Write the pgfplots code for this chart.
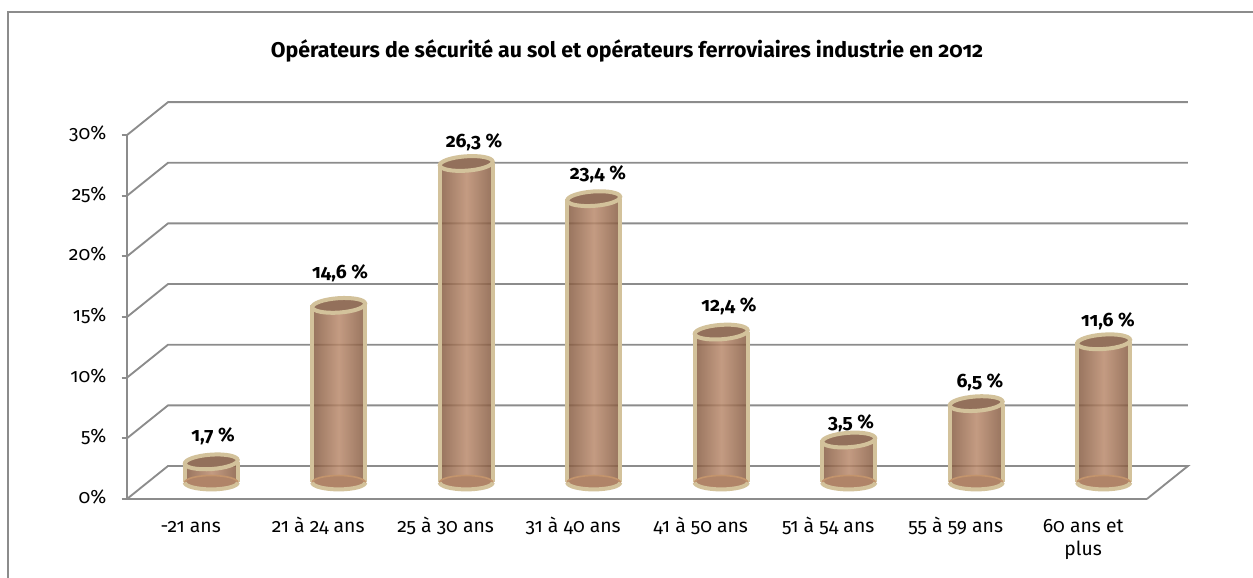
\documentclass[border=0pt]{standalone}
\usepackage{fontspec}
\setmainfont{Fira Sans}[Numbers=OldStyle]
\usepackage{pgfplots}
\usepackage{pgfplotstable}
\pgfplotsset{compat=1.18}

\definecolor{gridgray}{HTML}{8C8C8C}
\definecolor{rim}{HTML}{D3C29B}
\definecolor{barlo}{HTML}{84593F}
\definecolor{barhi}{HTML}{B8886A}
\definecolor{captop}{HTML}{93705B}
\definecolor{capbot}{HTML}{B08468}
\definecolor{innerarc}{HTML}{C3946C}

% cylinder caps, sized for 1px = 0.75pt
\pgfdeclareplotmark{cyltop}{%
  \pgfpathellipse{\pgfpointorigin}{\pgfpointpolar{4}{19.9pt}}{\pgfpointpolar{94}{5.4pt}}%
  \pgfusepathqfillstroke}
\pgfdeclareplotmark{cylbase}{%
  \pgfpathellipse{\pgfpointorigin}{\pgfqpoint{19.9pt}{0pt}}{\pgfqpoint{0pt}{5.2pt}}%
  \pgfusepathqfillstroke}
\pgfdeclareplotmark{cylrim}{%
  \pgfpathmoveto{\pgfqpoint{-19.9pt}{0pt}}%
  \pgfpatharc{180}{360}{19.9pt and 5.2pt}%
  \pgfusepathqstroke}

\pgfplotstableread{
x v
0.5 1.7
1.5 14.6
2.5 26.3
3.5 23.4
4.5 12.4
5.5 3.5
6.5 6.5
7.5 11.6
}\agedata

\pgfplotsset{cylbody/.style={ybar,bar width=0.4157,draw=none,
  left color=barlo,right color=barlo,middle color=barhi,fill opacity=0.84}}

\begin{document}
\begin{tikzpicture}
\begin{axis}[
scale only axis,width=765pt,height=272.9pt,
xmin=-0.161,xmax=7.839,ymin=-1.36,ymax=28.64,
clip=false,
font=\fontsize{14.5}{17}\selectfont,
axis x line*=bottom,axis y line*=left,
axis line style={gridgray,line width=1.4pt},
tick align=outside,
typeset ticklabels with strut,
xtick={0.339,1.339,2.339,3.339,4.339,5.339,6.339,7.339},
xticklabels={-21 ans,21 à 24 ans,25 à 30 ans,31 à 40 ans,41 à 50 ans,51 à 54 ans,55 à 59 ans,60 ans et\\plus},
xticklabel style={align=center,yshift=-6pt},
xtick style={draw=none},
minor xtick={-0.161,0.839,1.839,2.839,3.839,4.839,5.839,6.839,7.839},
minor tick length=4.5pt,
minor tick style={gridgray,line width=1.4pt},
ytick={-1.36,3.64,8.64,13.64,18.64,23.64,28.64},
yticklabels={0\%,5\%,10\%,15\%,20\%,25\%,30\%},
yticklabel style={xshift=-8pt},
ytick style={gridgray,line width=1.4pt},
major tick length=4pt,
]
% grid of the 3D walls
\addplot[gridgray,line width=1.4pt,no marks] coordinates {(-0.161,-1.36) (0.161,1.36) (8.161,1.36) (7.839,-1.36)};
\addplot[gridgray,line width=1.4pt,no marks] coordinates {(-0.161,3.64) (0.161,6.36) (8.161,6.36)};
\addplot[gridgray,line width=1.4pt,no marks] coordinates {(-0.161,8.64) (0.161,11.36) (8.161,11.36)};
\addplot[gridgray,line width=1.4pt,no marks] coordinates {(-0.161,13.64) (0.161,16.36) (8.161,16.36)};
\addplot[gridgray,line width=1.4pt,no marks] coordinates {(-0.161,18.64) (0.161,21.36) (8.161,21.36)};
\addplot[gridgray,line width=1.4pt,no marks] coordinates {(-0.161,23.64) (0.161,26.36) (8.161,26.36)};
\addplot[gridgray,line width=1.4pt,no marks] coordinates {(-0.161,28.64) (0.161,31.36) (8.161,31.36)};

% cylinders: base, body (one plot per bar so each gets its own shading), rims, top
\addplot[only marks,mark=cylbase,mark options={fill=capbot,draw=innerarc,line width=1.2pt}] table[x=x,y expr=0]{\agedata};
\addplot[cylbody] coordinates {(0.5,1.7)};
\addplot[cylbody] coordinates {(1.5,14.6)};
\addplot[cylbody] coordinates {(2.5,26.3)};
\addplot[cylbody] coordinates {(3.5,23.4)};
\addplot[cylbody] coordinates {(4.5,12.4)};
\addplot[cylbody] coordinates {(5.5,3.5)};
\addplot[cylbody] coordinates {(6.5,6.5)};
\addplot[cylbody] coordinates {(7.5,11.6)};
\addplot[only marks,mark=cylrim,mark options={draw=rim,line width=3pt}] table[x=x,y expr=0]{\agedata};
\addplot[ycomb,rim,line width=3pt,no marks] table[x expr=\thisrow{x}-0.2078,y=v]{\agedata};
\addplot[ycomb,rim,line width=3pt,no marks] table[x expr=\thisrow{x}+0.2078,y=v]{\agedata};
\addplot[only marks,mark=cyltop,mark options={fill=captop,draw=rim,line width=3pt}] table[x=x,y=v]{\agedata};

% data labels
\addplot[draw=none,no marks,nodes near coords,point meta=explicit symbolic,
  nodes near coords style={anchor=base,inner sep=0pt,font=\bfseries\fontsize{14.5}{17}\selectfont}]
  coordinates {(0.514,3.34)[1,7 \%] (1.510,16.78)[14,6 \%] (2.561,27.58)[26,3 \%] (3.533,24.94)[23,4 \%]
  (4.561,14.06)[12,4 \%] (5.518,4.41)[3,5 \%] (6.529,7.87)[6,5 \%] (7.533,12.90)[11,6 \%]};

\node[anchor=base,font=\bfseries\fontsize{16}{19}\selectfont] at (axis cs:3.761,35.0)
  {Opérateurs de sécurité au sol et opérateurs ferroviaires industrie en 2012};
\draw[gridgray,line width=1.4pt] (axis cs:-1.094,-7.873) -- (axis cs:-1.094,38.79) -- (axis cs:8.671,38.79);
\coordinate (bbsw) at (axis cs:-1.157,-7.873);
\coordinate (bbne) at (axis cs:8.671,39.78);
\end{axis}
\pgfresetboundingbox
\path[use as bounding box] (bbsw) rectangle (bbne);
\end{tikzpicture}
\end{document}
